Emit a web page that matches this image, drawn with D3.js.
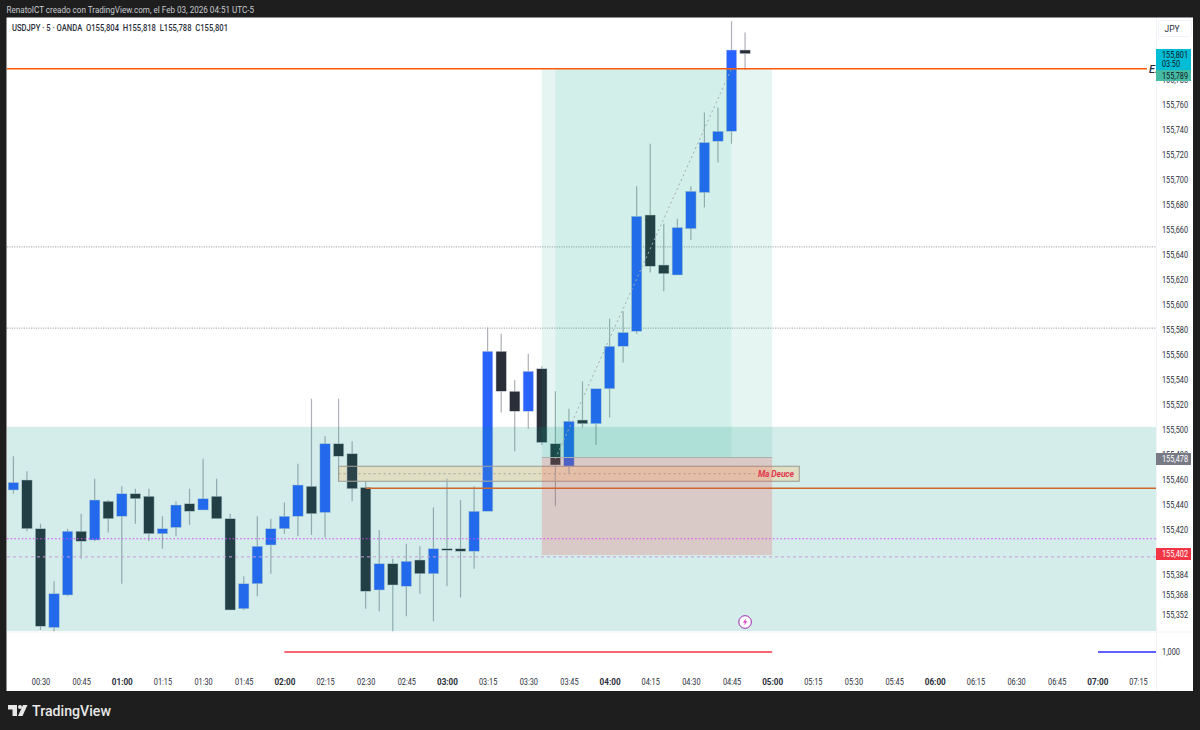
<!DOCTYPE html>
<html>
<head>
<meta charset="utf-8">
<script src="https://cdn.jsdelivr.net/npm/d3@7"></script>
<style>
  html, body { margin: 0; padding: 0; background: #1e1e1e; }
  svg { display: block; font-family: Roboto, sans-serif; }
</style>
</head>
<body>
<div id="chart"></div>
<script>
// bars start at 00:20, one every 5 minutes
let startMinute = 20

let opens = [155.452, 155.460, 155.421, 155.342, 155.368, 155.419, 155.412, 155.443, 155.431, 155.449, 155.447,
  155.417, 155.422, 155.441, 155.436, 155.447, 155.429, 155.357, 155.377, 155.408, 155.421, 155.431, 155.455,
  155.434, 155.489, 155.481, 155.454, 155.372, 155.393, 155.375, 155.396, 155.385, 155.405, 155.405, 155.403,
  155.435, 155.563, 155.531, 155.515, 155.549, 155.489, 155.471, 155.508, 155.505, 155.533, 155.567, 155.579,
  155.672, 155.632, 155.624, 155.661, 155.690, 155.731, 155.739, 155.804]
let highs = [155.479, 155.467, 155.425, 155.379, 155.421, 155.433, 155.461, 155.444, 155.455, 155.453, 155.453,
  155.431, 155.443, 155.453, 155.477, 155.461, 155.433, 155.383, 155.431, 155.429, 155.442, 155.473, 155.525,
  155.495, 155.525, 155.491, 155.459, 155.420, 155.397, 155.409, 155.407, 155.438, 155.461, 155.444, 155.455,
  155.582, 155.577, 155.540, 155.561, 155.551, 155.531, 155.517, 155.539, 155.533, 155.589, 155.595, 155.695,
  155.729, 155.665, 155.669, 155.695, 155.754, 155.758, 155.827, 155.818]
let lows = [155.449, 155.419, 155.340, 155.339, 155.367, 155.397, 155.411, 155.418, 155.377, 155.425, 155.411,
  155.405, 155.415, 155.424, 155.436, 155.429, 155.356, 155.356, 155.367, 155.385, 155.417, 155.415, 155.416,
  155.414, 155.459, 155.443, 155.357, 155.355, 155.339, 155.351, 155.369, 155.347, 155.375, 155.366, 155.389,
  155.435, 155.514, 155.483, 155.501, 155.488, 155.439, 155.465, 155.502, 155.488, 155.510, 155.554, 155.577,
  155.626, 155.611, 155.624, 155.652, 155.678, 155.714, 155.729, 155.788]
let closes = [155.458, 155.421, 155.343, 155.369, 155.419, 155.411, 155.444, 155.429, 155.449, 155.445, 155.417,
  155.421, 155.440, 155.435, 155.445, 155.429, 155.356, 155.377, 155.407, 155.421, 155.431, 155.456, 155.433,
  155.489, 155.479, 155.453, 155.371, 155.393, 155.376, 155.395, 155.385, 155.405, 155.404, 155.403, 155.435,
  155.563, 155.531, 155.515, 155.547, 155.490, 155.472, 155.507, 155.505, 155.533, 155.567, 155.578, 155.671,
  155.631, 155.625, 155.662, 155.691, 155.730, 155.739, 155.804, 155.801]

let priceTicks = [155.78, 155.76, 155.74, 155.72, 155.7, 155.68, 155.66, 155.64, 155.62, 155.6, 155.58, 155.56,
  155.54, 155.52, 155.5, 155.48, 155.46, 155.44, 155.42, 155.384, 155.368, 155.352]
let timeTicks = [30, 45, 60, 75, 90, 105, 120, 135, 150, 165, 180, 195, 210, 225, 240, 255, 270, 285, 300, 315,
  330, 345, 360, 375, 390, 405, 420, 435]
let timeLabels = ['00:30', '00:45', '01:00', '01:15', '01:30', '01:45', '02:00', '02:15', '02:30', '02:45', '03:00',
  '03:15', '03:30', '03:45', '04:00', '04:15', '04:30', '04:45', '05:00', '05:15', '05:30', '05:45', '06:00',
  '06:15', '06:30', '06:45', '07:00', '07:15']

// drawn levels
let entryPrice = 155.789
let lowerLevel = 155.4535
let magentaLevel = 155.413
let lilacLevel = 155.3985
let greyLevels = [155.6465, 155.5815]

let width = 1200
let height = 730
let pane = { left: 7, right: 1156, top: 18, bottom: 631 }

let x = d3.scaleLinear().domain([30, 435]).range([40.5, 1138])
let y = d3.scaleLinear().domain([155.76, 155.352]).range([105, 615])
let yVol = d3.scaleLinear().domain([0, 1]).range([672, 652])

let fmt = d => d3.format('.3f')(d).replace('.', ',')
let bars = opens.map((o, i) => ({
  minute: startMinute + i * 5,
  open: o,
  high: highs[i],
  low: lows[i],
  close: closes[i]
}))

let svg = d3
  .select('#chart')
  .append('svg')
  .attr('width', width)
  .attr('height', height)

// frame
svg.append('rect').attr('width', width).attr('height', height).attr('fill', '#1e1e1e')
svg.append('rect').attr('x', 6.5).attr('y', 17.5).attr('width', 1186.5).attr('height', 673.5).attr('fill', '#fff')
svg.append('line')
  .attr('x1', pane.left).attr('x2', 1193)
  .attr('y1', 632).attr('y2', 632)
  .attr('stroke', '#f0f3fa')
svg.append('line')
  .attr('x1', pane.right + 0.5).attr('x2', pane.right + 0.5)
  .attr('y1', 18).attr('y2', 691)
  .attr('stroke', '#f0f3fa')

// grey dotted levels
svg.selectAll('.grey-level')
  .data(greyLevels)
  .enter()
  .append('line')
  .attr('class', 'grey-level')
  .attr('x1', pane.left).attr('x2', pane.right)
  .attr('y1', d => y(d)).attr('y2', d => y(d))
  .attr('stroke', '#8a8d96')
  .attr('stroke-width', 0.8)
  .attr('stroke-dasharray', '1.2 1.2')

function drawCandles(parent, upColor, downColor, wickColor) {
  let candle = parent.selectAll('.candle')
    .data(bars)
    .enter()
    .append('g')
    .attr('class', 'candle')

  candle.append('line')
    .attr('x1', d => x(d.minute)).attr('x2', d => x(d.minute))
    .attr('y1', d => y(d.high)).attr('y2', d => y(d.low))
    .attr('stroke', wickColor)
    .attr('stroke-width', 1.2)

  candle.append('rect')
    .attr('x', d => x(d.minute) - 5.2)
    .attr('width', 10.4)
    .attr('y', d => y(Math.max(d.open, d.close)))
    .attr('height', d => Math.max(1.5, Math.abs(y(d.open) - y(d.close))))
    .attr('fill', d => (d.close >= d.open ? upColor : downColor))
    .attr('stroke', '#cfd3dc')
    .attr('stroke-width', 0.5)
}

drawCandles(svg.append('g'), '#2962ff', '#2a2e39', '#adb0b8')

// lower orange level goes under the overlays
svg.append('line')
  .attr('x1', x(150)).attr('x2', pane.right)
  .attr('y1', y(lowerLevel)).attr('y2', y(lowerLevel))
  .attr('stroke', '#f7621a')
  .attr('stroke-width', 1.5)

// big teal zone
svg.append('rect')
  .attr('x', pane.left).attr('y', y(155.5025))
  .attr('width', pane.right - pane.left).attr('height', 631 - y(155.5025))
  .attr('fill', 'rgba(0,150,136,0.17)')

// tan box, the candles stay on top of it
let boxTop = y(155.471)
let boxBottom = y(155.459)
svg.append('rect')
  .attr('x', x(140)).attr('y', boxTop)
  .attr('width', x(310) - x(140)).attr('height', boxBottom - boxTop)
  .attr('fill', '#e0dec3')
  .attr('stroke', '#9a9c92')
svg.append('line')
  .attr('x1', x(140)).attr('x2', 755)
  .attr('y1', y(155.465)).attr('y2', y(155.465))
  .attr('stroke', '#a3a39a')
  .attr('stroke-dasharray', '2 3')
svg.append('clipPath')
  .attr('id', 'box-clip')
  .append('rect')
  .attr('x', x(140) + 0.5).attr('y', boxTop + 0.5)
  .attr('width', x(310) - x(140) - 1).attr('height', boxBottom - boxTop - 1)
drawCandles(svg.append('g').attr('clip-path', 'url(#box-clip)'), '#2b6fe6', '#2a444a', '#9db3b3')

// trade zones
svg.append('rect')
  .attr('x', x(215)).attr('y', y(entryPrice))
  .attr('width', x(300) - x(215)).attr('height', y(155.478) - y(entryPrice))
  .attr('fill', 'rgba(0,165,125,0.1)')
svg.append('rect')
  .attr('x', x(220)).attr('y', y(entryPrice))
  .attr('width', x(285) - x(220)).attr('height', y(155.478) - y(entryPrice))
  .attr('fill', 'rgba(0,165,125,0.08)')
svg.append('rect')
  .attr('x', x(215)).attr('y', y(155.478))
  .attr('width', x(300) - x(215)).attr('height', y(155.4) - y(155.478))
  .attr('fill', 'rgba(244,67,54,0.2)')
svg.append('line')
  .attr('x1', x(215)).attr('x2', x(300))
  .attr('y1', y(155.478)).attr('y2', y(155.478))
  .attr('stroke', '#aab0ae')

// dotted path of the trade
svg.append('line')
  .attr('x1', x(220)).attr('y1', y(155.477))
  .attr('x2', x(285)).attr('y2', y(entryPrice))
  .attr('stroke', '#a5aab0')
  .attr('stroke-dasharray', '2 3')

// magenta and lilac levels
svg.append('line')
  .attr('x1', pane.left).attr('x2', pane.right)
  .attr('y1', y(magentaLevel)).attr('y2', y(magentaLevel))
  .attr('stroke', '#e040fb')
  .attr('stroke-width', 1.2)
  .attr('stroke-dasharray', '1.5 2.2')
svg.append('line')
  .attr('x1', pane.left).attr('x2', pane.right)
  .attr('y1', y(lilacLevel)).attr('y2', y(lilacLevel))
  .attr('stroke', '#c99ad8')
  .attr('stroke-width', 1)
  .attr('stroke-dasharray', '3 3')

// entry level
svg.append('line')
  .attr('x1', pane.left).attr('x2', 1147)
  .attr('y1', y(entryPrice)).attr('y2', y(entryPrice))
  .attr('stroke', '#ff5a0a')
  .attr('stroke-width', 1.5)
svg.append('text')
  .attr('x', 1149).attr('y', y(entryPrice) + 4)
  .attr('font-size', 11)
  .attr('font-style', 'italic')
  .attr('font-weight', 500)
  .attr('fill', '#2a2e39')
  .text('E.')

svg.append('text')
  .attr('x', 758).attr('y', y(155.465) + 3)
  .attr('font-size', 8.5)
  .attr('font-style', 'italic')
  .attr('font-weight', 700)
  .attr('textLength', 36)
  .attr('fill', '#e0394f')
  .text('Ma Deuce')

// lower pane lines
svg.append('line')
  .attr('x1', x(120)).attr('x2', x(300))
  .attr('y1', yVol(1)).attr('y2', yVol(1))
  .attr('stroke', '#f23645')
  .attr('stroke-width', 1.6)
svg.append('line')
  .attr('x1', 1098).attr('x2', pane.right)
  .attr('y1', yVol(1)).attr('y2', yVol(1))
  .attr('stroke', '#2a2eff')
  .attr('stroke-width', 1.6)

// the reference type is narrow, so squeeze it to the measured widths
function squeeze(sel, w) {
  sel.attr('textLength', w).attr('lengthAdjust', 'spacingAndGlyphs')
}

// price axis
let priceAxis = svg.append('g')
  .attr('transform', `translate(${pane.right}, 0)`)
  .call(d3.axisRight(y).tickValues(priceTicks).tickFormat(fmt).tickSize(0).tickPadding(6))
priceAxis.select('.domain').remove()
priceAxis.selectAll('text')
  .attr('font-family', 'Roboto, sans-serif')
  .attr('font-size', 8.6)
  .attr('fill', '#2a2e39')
  .call(squeeze, 26)

let volAxis = svg.append('g')
  .attr('transform', `translate(${pane.right}, 0)`)
  .call(d3.axisRight(yVol).tickValues([1]).tickFormat(fmt).tickSize(0).tickPadding(6))
volAxis.select('.domain').remove()
volAxis.selectAll('text')
  .attr('font-family', 'Roboto, sans-serif')
  .attr('font-size', 8.6)
  .attr('fill', '#2a2e39')
  .call(squeeze, 18)

// time axis
let timeAxis = svg.append('g')
  .attr('transform', 'translate(0, 672)')
  .call(d3.axisBottom(x).tickValues(timeTicks).tickFormat((d, i) => timeLabels[i]).tickSize(0).tickPadding(7))
timeAxis.select('.domain').remove()
timeAxis.selectAll('text')
  .attr('font-family', 'Roboto, sans-serif')
  .attr('font-size', 8.6)
  .attr('fill', '#2a2e39')
  .attr('font-weight', (d, i) => (timeLabels[i].endsWith(':00') ? 700 : 400))
  .each(function(d, i) {
    d3.select(this).call(squeeze, timeLabels[i].endsWith(':00') ? 21 : 18.3)
  })

// price labels on the axis
let priceLabels = [
  { top: 49, h: 21, fill: '#00bcd4', color: '#131722', lines: [fmt(closes[closes.length - 1]), '03:50'], w: [26, 18] },
  { top: 70, h: 11, fill: '#45bba5', color: '#131722', lines: [fmt(entryPrice)], w: [26] },
  { top: 453, h: 12, fill: '#787b86', color: '#fff', lines: ['155,478'], w: [26] },
  { top: 548, h: 12, fill: '#f23645', color: '#fff', lines: ['155,402'], w: [26] }
]
priceLabels.forEach(l => {
  svg.append('rect')
    .attr('x', 1156).attr('y', l.top)
    .attr('width', 35).attr('height', l.h)
    .attr('fill', l.fill)
  l.lines.forEach((t, i) => {
    svg.append('text')
      .attr('x', 1162).attr('y', l.top + 8.8 + i * 9)
      .attr('font-size', 8.6)
      .attr('fill', l.color)
      .text(t)
      .call(squeeze, l.w[i])
  })
})

// currency button
svg.append('rect')
  .attr('x', 1158.5).attr('y', 20.5)
  .attr('width', 33).attr('height', 16)
  .attr('rx', 2)
  .attr('fill', '#fff')
  .attr('stroke', '#f0f3fa')
svg.append('text')
  .attr('x', 1172).attr('y', 32)
  .attr('text-anchor', 'middle')
  .attr('font-size', 8.4)
  .attr('fill', '#2a2e39')
  .text('JPY')

// header texts
svg.append('text')
  .attr('x', 6.5).attr('y', 12.5)
  .attr('font-size', 8.4)
  .attr('fill', '#c9cbd1')
  .text('RenatoICT creado con TradingView.com, el Feb 03, 2026 04:51 UTC-5')
  .call(squeeze, 247.5)
svg.append('text')
  .attr('x', 12).attr('y', 31)
  .attr('font-size', 8.6)
  .attr('font-weight', 500)
  .attr('xml:space', 'preserve')
  .attr('fill', '#2a2e39')
  .text(`USDJPY · 5 · OANDA  O${fmt(opens[54])}  H${fmt(highs[54])}  L${fmt(lows[54])}  C${fmt(closes[54])}`)
  .call(squeeze, 216)

// lightning marker
let bolt = svg.append('g').attr('transform', `translate(${x(290)}, 622)`)
bolt.append('circle').attr('r', 6.3).attr('fill', '#fff').attr('stroke', '#9c27b0').attr('stroke-width', 1)
bolt.append('path').attr('d', 'M0.8,-3.6 L-2.2,0.6 L-0.2,0.6 L-0.8,3.6 L2.2,-0.8 L0.2,-0.8 Z').attr('fill', '#e040c8')

// logo
let logo = svg.append('g').attr('fill', '#e8e8e8')
logo.append('path').attr('d', 'M8,705 H17 V716 H12.5 V709.5 H8 Z')
logo.append('circle').attr('cx', 20).attr('cy', 707).attr('r', 2)
logo.append('path').attr('d', 'M23,705 H27.5 L22.5,716 H18 Z')
svg.append('text')
  .attr('x', 32).attr('y', 716)
  .attr('font-size', 15)
  .attr('font-weight', 500)
  .attr('fill', '#e8e8e8')
  .text('TradingView')
  .call(squeeze, 79)
</script>
</body>
</html>
